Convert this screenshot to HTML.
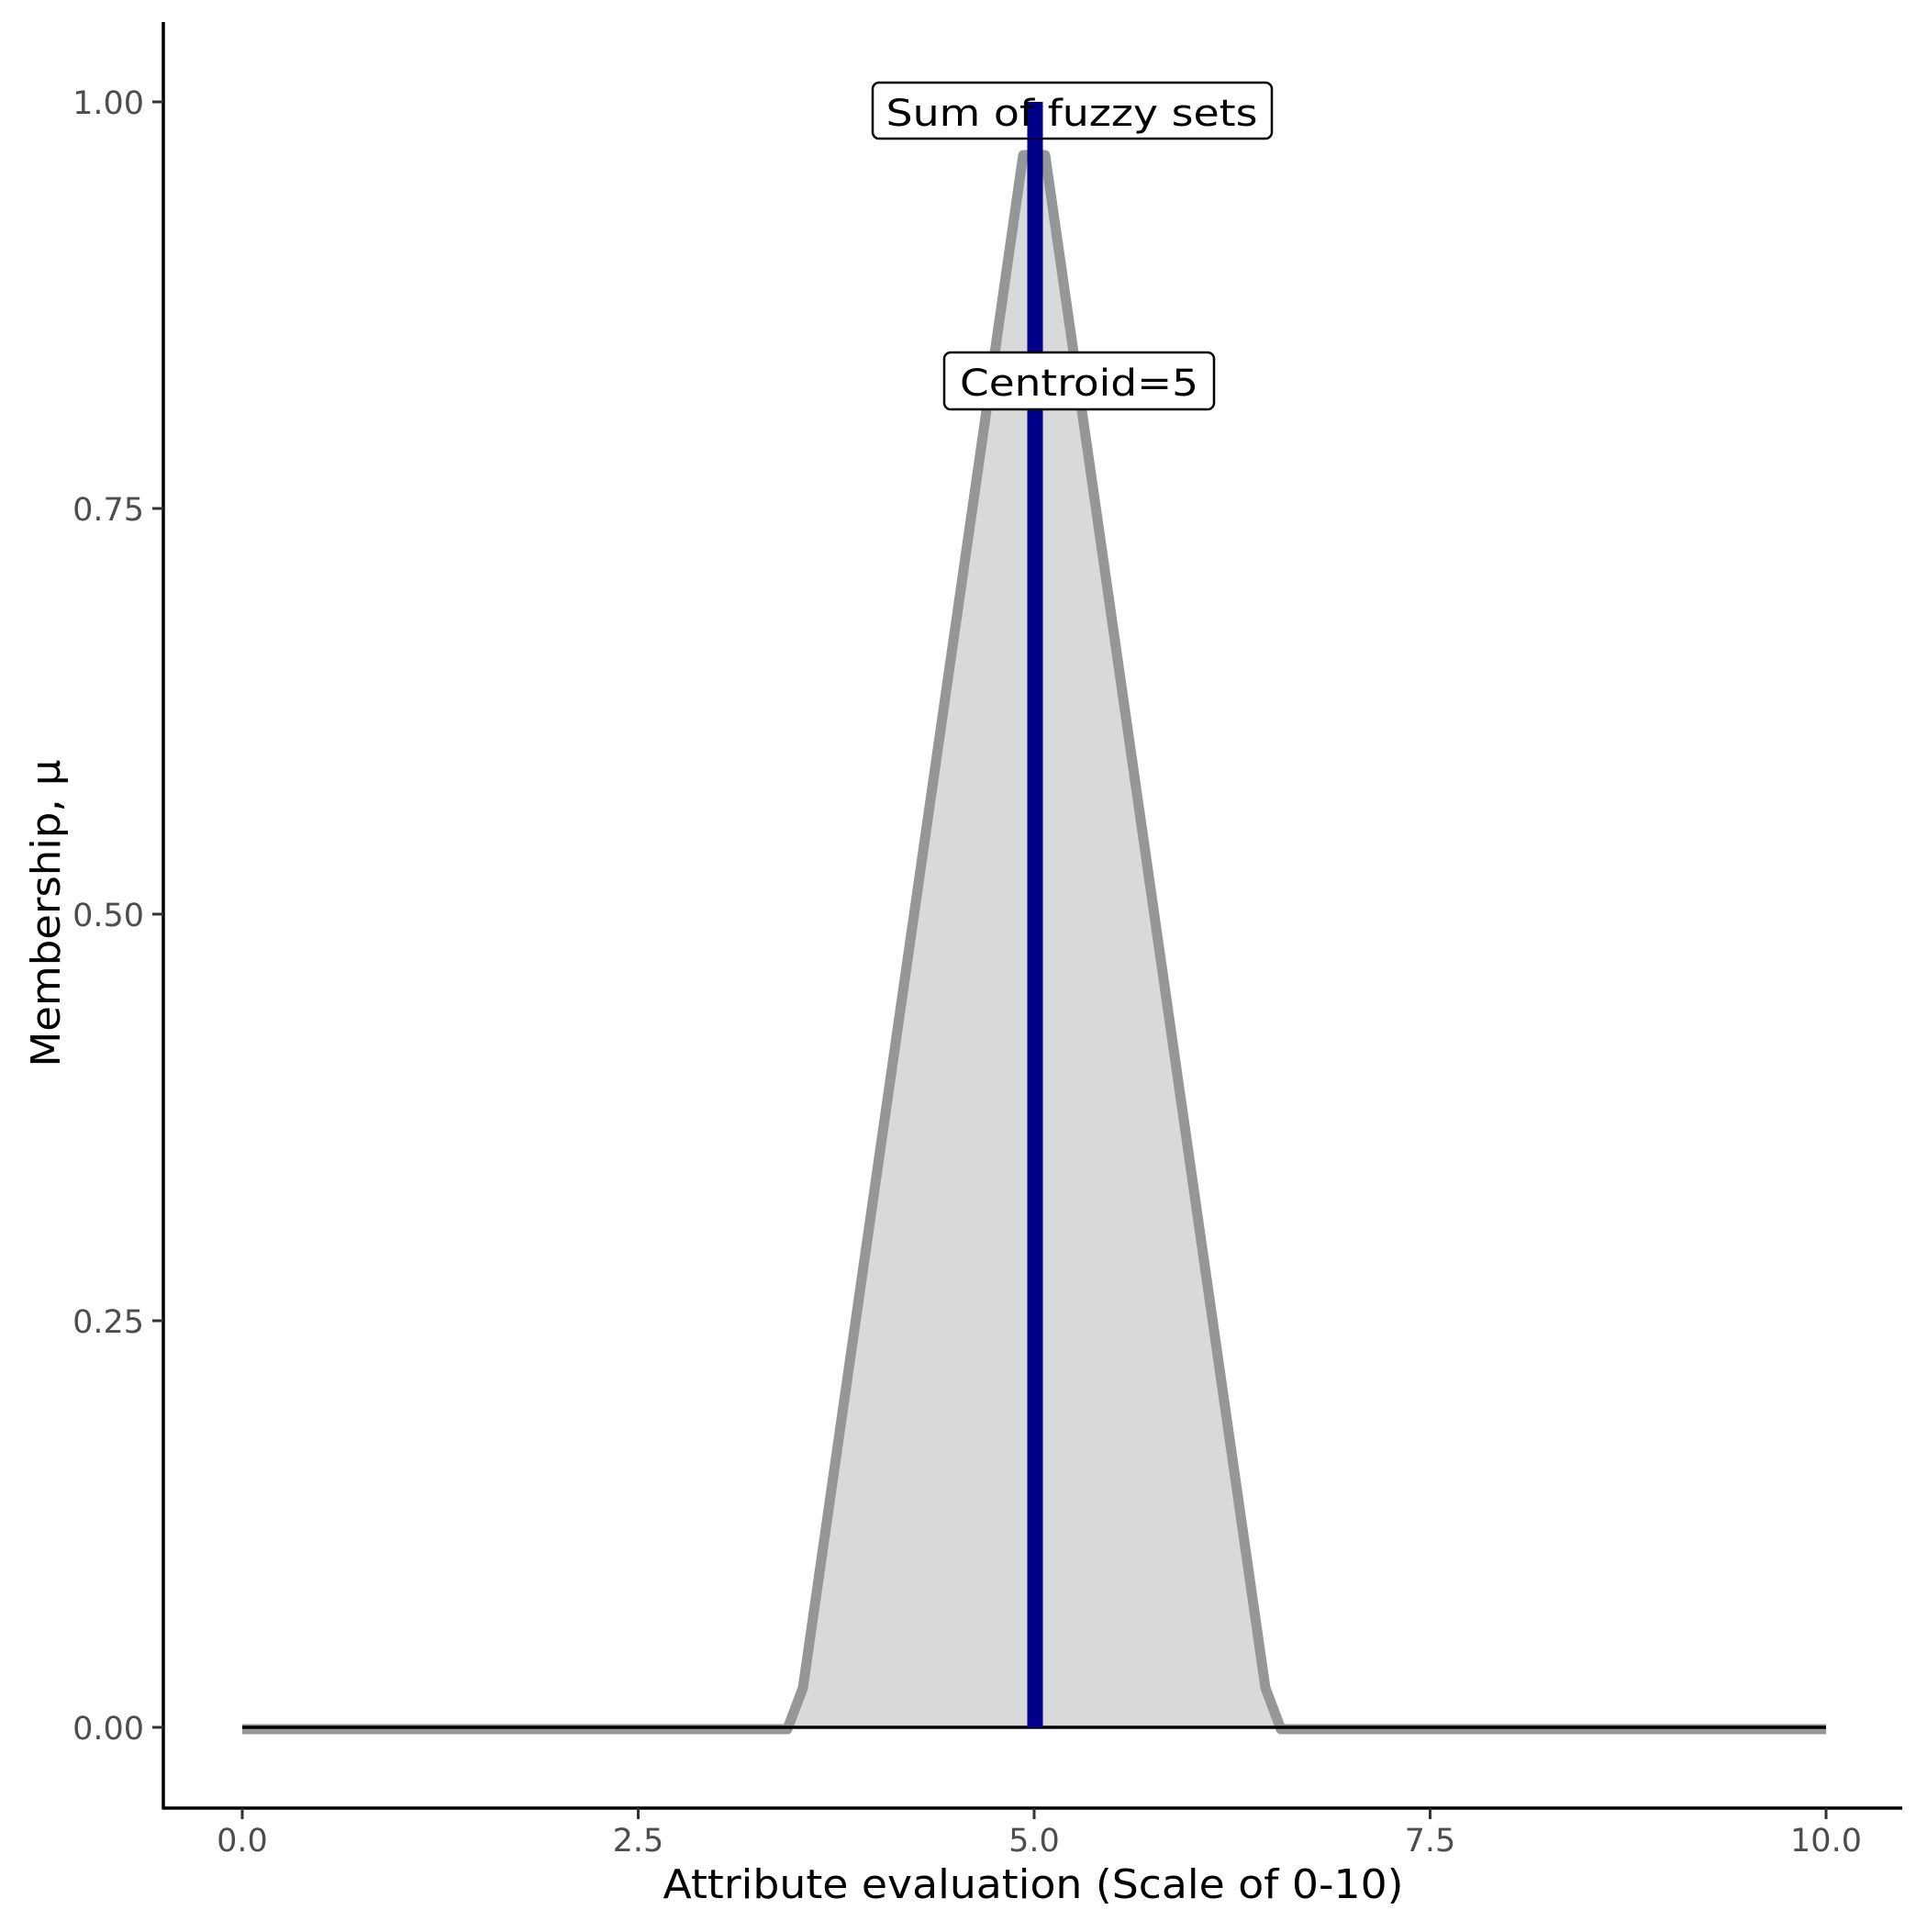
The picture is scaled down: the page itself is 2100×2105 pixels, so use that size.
<!DOCTYPE html>
<html><head><meta charset="utf-8"><style>html,body{margin:0;padding:0;background:#fff}</style></head>
<body>
<svg width="2100" height="2100" viewBox="0 0 2100 2100" xmlns="http://www.w3.org/2000/svg" font-family="DejaVu Sans, Liberation Sans, sans-serif">
<rect width="2100" height="2100" fill="#fff"/>
<polygon points="264,1882 858,1882 875,1839 1115,169 1139,169 1379,1839 1396,1882 1990,1882" fill="#d9d9d9"/>
<polyline points="264,1884 858,1884 875,1839 1115,169 1139,169 1379,1839 1396,1884 1990,1884" fill="none" stroke="#969696" stroke-width="11" stroke-linejoin="round"/>
<line x1="264" y1="1882" x2="1990" y2="1882" stroke="#000" stroke-width="3.5"/>
<line x1="1128" y1="111" x2="1128" y2="1882" stroke="#00008b" stroke-width="17"/>
<g stroke="#000" stroke-width="2.5" fill="#fff">
<rect x="951" y="90" width="435" height="61" rx="7"/>
<rect x="1029" y="384" width="294" height="62" rx="7"/>
</g>
<line x1="1128" y1="111" x2="1128" y2="151" stroke="#00008b" stroke-width="17"/>
<text x="1168" y="137" font-size="40" text-anchor="middle" textLength="405" lengthAdjust="spacingAndGlyphs">Sum of fuzzy sets</text>
<text x="1176" y="431" font-size="40" text-anchor="middle" textLength="260" lengthAdjust="spacingAndGlyphs">Centroid=5</text>
<line x1="178" y1="24" x2="178" y2="1971" stroke="#000" stroke-width="3.5"/>
<line x1="176.5" y1="1970" x2="2073" y2="1970" stroke="#000" stroke-width="3.5"/>
<g stroke="#333" stroke-width="3">
<line x1="166" y1="111" x2="178" y2="111"/><line x1="166" y1="554" x2="178" y2="554"/><line x1="166" y1="996" x2="178" y2="996"/><line x1="166" y1="1439" x2="178" y2="1439"/><line x1="166" y1="1882" x2="178" y2="1882"/>
<line x1="264" y1="1970" x2="264" y2="1982"/><line x1="695.5" y1="1970" x2="695.5" y2="1982"/><line x1="1127" y1="1970" x2="1127" y2="1982"/><line x1="1558.5" y1="1970" x2="1558.5" y2="1982"/><line x1="1990" y1="1970" x2="1990" y2="1982"/>
</g>
<g fill="#4d4d4d" font-size="35" text-anchor="end">
<text x="157" y="124">1.00</text><text x="157" y="567">0.75</text><text x="157" y="1009">0.50</text><text x="157" y="1452">0.25</text><text x="157" y="1895">0.00</text>
</g>
<g fill="#4d4d4d" font-size="35" text-anchor="middle">
<text x="264" y="2017">0.0</text><text x="695.5" y="2017">2.5</text><text x="1127" y="2017">5.0</text><text x="1558.5" y="2017">7.5</text><text x="1990" y="2017">10.0</text>
</g>
<text x="1126" y="2068" font-size="44" text-anchor="middle" textLength="807" lengthAdjust="spacingAndGlyphs">Attribute evaluation (Scale of 0-10)</text>
<text transform="translate(65,995) rotate(-90)" font-size="44" text-anchor="middle" textLength="335" lengthAdjust="spacingAndGlyphs">Membership, μ</text>
</svg>
</body></html>
